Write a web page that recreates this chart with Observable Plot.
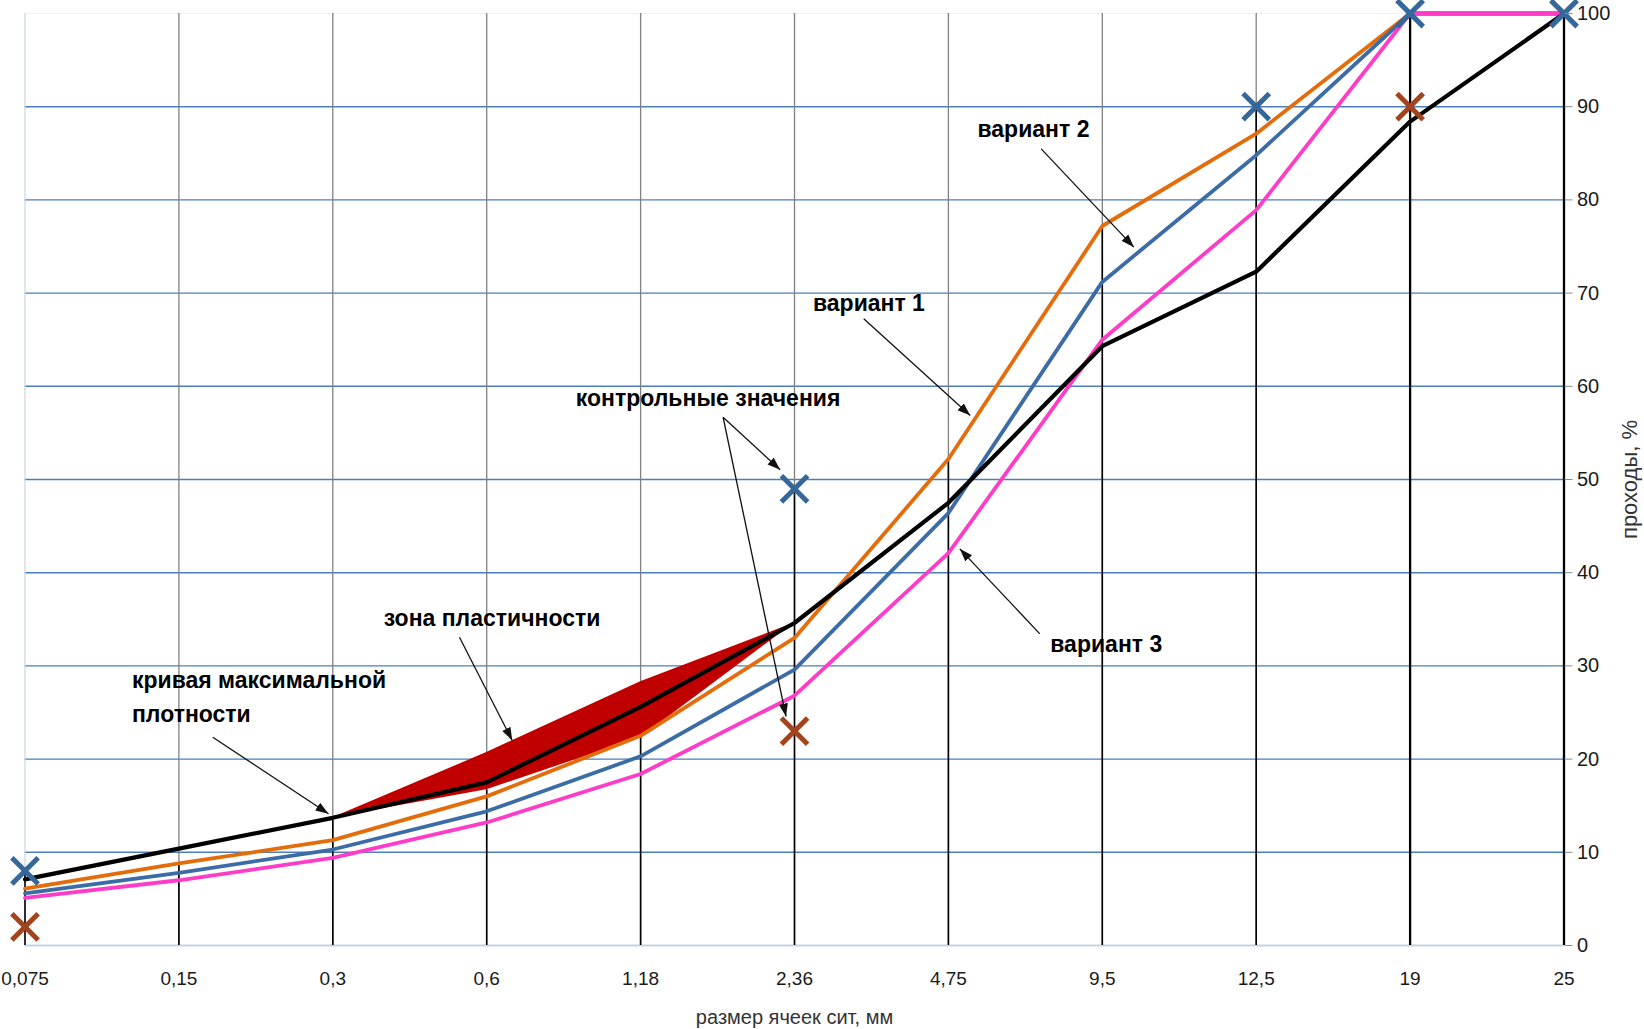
<!DOCTYPE html>
<html>
<head>
<meta charset="utf-8">
<script src="https://cdn.jsdelivr.net/npm/d3@7"></script>
<script src="https://cdn.jsdelivr.net/npm/@observablehq/plot@0.6"></script>
<style>
  html, body { margin: 0; padding: 0; background: #ffffff; }
  #chart svg { display: block; }
</style>
</head>
<body>
<div id="chart"></div>
<script>
// ---- data ----
const sieves = ["0,075", "0,15", "0,3", "0,6", "1,18", "2,36", "4,75", "9,5", "12,5", "19", "25"];
const yTicks = [0, 10, 20, 30, 40, 50, 60, 70, 80, 90, 100];
const maxDensity = [7.1, 10.4, 13.7, 17.5, 25.6, 34.6, 47.5, 64.3, 72.3, 88.4, 100];
const variant1 = [6.1, 8.8, 11.3, 16.0, 22.5, 33.0, 52.2, 77.2, 87.1, 100, 100];
const variant2 = [5.6, 7.8, 10.3, 14.4, 20.3, 29.6, 46.4, 71.2, 84.8, 100, 100];
const variant3 = [5.1, 7.0, 9.4, 13.2, 18.4, 26.8, 42.1, 65.0, 78.9, 100, 100];
const controlUpper = [8, null, null, null, null, 49, null, null, 90, 100, 100];
const controlLower = [2, null, null, null, null, 23, null, null, null, 90, null];
const zoneUpper = [null, null, 13.7, 20.7, 28.3, 34.6, null, null, null, null, null];
const zoneLower = [null, null, 13.7, 16.7, 22.3, 34.6, null, null, null, null, null];

const xTitle = "размер ячеек сит, мм";
const yTitle = "проходы, %";

// annotation labels (position in data units: x = sieve index, y = %)
const labels = [
  {text: "кривая максимальной", x: 0.695, y: 27.6},
  {text: "плотности", x: 0.695, y: 24.0},
  {text: "зона пластичности", x: 2.331, y: 34.3},
  {text: "контрольные значения", x: 3.579, y: 57.9},
  {text: "вариант 1", x: 5.12, y: 68.1},
  {text: "вариант 2", x: 6.189, y: 86.8},
  {text: "вариант 3", x: 6.662, y: 31.5}
];
const arrows = [
  {x1: 1.220, y1: 22.35, x2: 1.972, y2: 14.13},
  {x1: 2.823, y1: 33.08, x2: 3.166, y2: 22.0},
  {x1: 4.536, y1: 56.68, x2: 4.907, y2: 51.04},
  {x1: 4.536, y1: 56.68, x2: 4.945, y2: 24.57},
  {x1: 5.450, y1: 67.24, x2: 6.142, y2: 56.87},
  {x1: 6.603, y1: 85.48, x2: 7.205, y2: 74.93},
  {x1: 6.594, y1: 33.44, x2: 6.074, y2: 42.56}
];

// ---- derived ----
const idx = d3.range(sieves.length);
const defined = (arr) => idx.filter(i => arr[i] != null);
const dropTop = idx.map(i => d3.max([variant1[i], variant2[i], variant3[i], controlUpper[i], zoneLower[i]].filter(v => v != null)));

function arrowHead(color, context) {
  const doc = (context && context.document) || document;
  const m = doc.createElementNS("http://www.w3.org/2000/svg", "marker");
  m.setAttribute("viewBox", "-13 -5 13 10");
  m.setAttribute("markerWidth", "13");
  m.setAttribute("markerHeight", "10");
  m.setAttribute("markerUnits", "userSpaceOnUse");
  m.setAttribute("orient", "auto");
  m.setAttribute("refX", "0");
  m.setAttribute("refY", "0");
  const p = doc.createElementNS("http://www.w3.org/2000/svg", "path");
  p.setAttribute("d", "M-13,-4.6L0,0L-13,4.6Z");
  p.setAttribute("fill", color);
  p.setAttribute("stroke", "none");
  m.appendChild(p);
  return m;
}

const font = "'Liberation Sans', Arial, sans-serif";

function build(marker) {
  return Plot.plot({
    width: 1644,
    height: 1029,
    marginLeft: 24.5,
    marginRight: 80.5,
    marginTop: 13,
    marginBottom: 84,
    x: {type: "linear", domain: [0, 10]},
    y: {domain: [0, 100]},
    style: {background: "#ffffff", fontFamily: font},
    marks: [
      // horizontal gridlines
      Plot.ruleY(yTicks.filter(v => v > 0 && v < 100), {y: d => d, x1: 0, x2: 10, stroke: "#4a7ebb", strokeWidth: 1.4}),
      Plot.ruleY([100], {y: d => d, x1: 0, x2: 10, stroke: "#e4e4e4", strokeWidth: 1, strokeDasharray: "2,2"}),
      // vertical gridlines
      Plot.ruleX(idx.slice(1), {x: i => i, y1: 0, y2: 100, stroke: "#808080", strokeWidth: 1.3}),
      Plot.ruleX([0], {x: i => i, y1: 0, y2: 100, stroke: "#c8d5e6", strokeWidth: 1.2}),
      // x axis line
      Plot.ruleY([0], {y: d => d, x1: 0, x2: 10, stroke: "#c3d3e6", strokeWidth: 2.2}),
      // drop lines
      Plot.ruleX(idx, {x: i => i, y1: 0, y2: i => dropTop[i], stroke: "#000000", strokeWidth: i => (i >= 9 ? 2.3 : 1.6)}),
      // plasticity zone
      Plot.areaY(defined(zoneUpper), {x: i => i, y1: i => zoneLower[i], y2: i => zoneUpper[i], fill: "#c00000", curve: "linear"}),
      // variant curves
      Plot.line(idx, {x: i => i, y: i => variant1[i], stroke: "#e46c0a", strokeWidth: 3.8}),
      Plot.line(idx, {x: i => i, y: i => variant2[i], stroke: "#3b6ca5", strokeWidth: 3.8}),
      Plot.line(idx, {x: i => i, y: i => variant3[i], stroke: "#ff3cc8", strokeWidth: 3.8}),
      // maximum density curve
      Plot.line(idx, {x: i => i, y: i => maxDensity[i], stroke: "#000000", strokeWidth: 4.2}),
      // control points
      Plot.dot(defined(controlUpper), {x: i => i, y: i => controlUpper[i], symbol: "times", r: 12, stroke: "#36679b", strokeWidth: 5}),
      Plot.dot(defined(controlLower), {x: i => i, y: i => controlLower[i], symbol: "times", r: 12, stroke: "#a3441c", strokeWidth: 5}),
      // annotations
      Plot.link(arrows, {x1: "x1", y1: "y1", x2: "x2", y2: "y2", stroke: "#111111", strokeWidth: 1.3, markerEnd: marker}),
      Plot.text(labels, {x: "x", y: "y", text: "text", textAnchor: "start", lineAnchor: "bottom", fontSize: 23, fontWeight: "bold", fill: "#000000", fontFamily: font}),
      // axes
      Plot.axisX(idx, {tickSize: 0, tickPadding: 26, tickFormat: i => sieves[i], fontSize: 19, fill: "#1a1a1a", label: null}),
      Plot.axisY(yTicks, {anchor: "right", tickSize: 8, tickPadding: 5, stroke: "#888888", fill: "#1a1a1a", fontSize: 20, textAnchor: "start", label: null}),
      // axis titles
      Plot.text([xTitle], {frameAnchor: "bottom", dy: 72, textAnchor: "middle", lineAnchor: "middle", fontSize: 20, fill: "#333333", fontFamily: font}),
      Plot.text([yTitle], {frameAnchor: "right", dx: 66, rotate: -90, textAnchor: "middle", lineAnchor: "middle", fontSize: 22, fill: "#333333", fontFamily: font})
    ]
  });
}

let chart;
try {
  chart = build(arrowHead);
} catch (e) {
  chart = build("arrow");
}
document.getElementById("chart").appendChild(chart);
</script>
</body>
</html>
